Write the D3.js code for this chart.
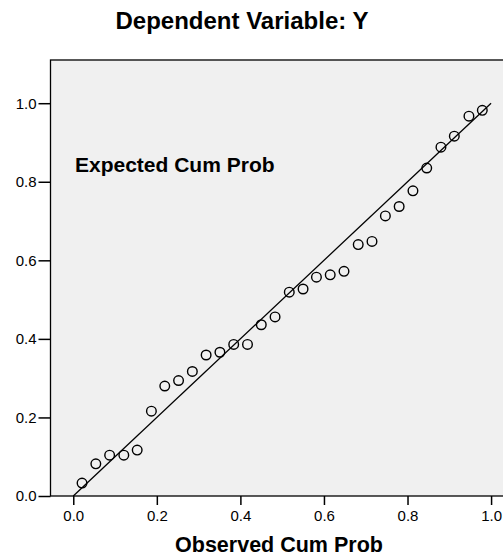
<!DOCTYPE html>
<html>
<head>
<meta charset="utf-8">
<script src="https://cdn.jsdelivr.net/npm/d3@7"></script>
<style>
	body { margin: 0; background: #fff; }
	svg text { font-family: "Liberation Sans", Arial, sans-serif; fill: #000; }
</style>
</head>
<body>
<div id="chart"></div>
<script>

// values
var observed = [0.021, 0.054, 0.087, 0.121, 0.153, 0.187, 0.219, 0.252, 0.285, 0.318,
                0.351, 0.384, 0.417, 0.450, 0.483, 0.517, 0.550, 0.582, 0.615, 0.648,
                0.682, 0.715, 0.747, 0.780, 0.813, 0.846, 0.880, 0.912, 0.947, 0.979];
var expected = [0.033, 0.082, 0.104, 0.104, 0.117, 0.216, 0.280, 0.294, 0.317, 0.359,
                0.366, 0.386, 0.386, 0.436, 0.456, 0.519, 0.527, 0.557, 0.563, 0.572,
                0.640, 0.648, 0.713, 0.737, 0.777, 0.835, 0.888, 0.916, 0.967, 0.982];
var refLine = [[0, 0], [1, 1]];
var tickValues = [0, 0.2, 0.4, 0.6, 0.8, 1.0];

var titleText = "Dependent Variable: Y";
var xTitle = "Observed Cum Prob";
var yTitle = "Expected Cum Prob";

//*******************************************************************************************
//		CHART
//*******************************************************************************************

function drawChart() {
	var width = 503, height = 556;
	var frame = { left: 50.5, top: 60, right: 508, bottom: 496 };

	var svg = d3.select("#chart").append("svg")
		.attr("width", width)
		.attr("height", height);

	var x = d3.scaleLinear().domain([-0.0545, 1.0405]).range([frame.left, frame.right]);
	var y = d3.scaleLinear().domain([0, 1.11]).range([frame.bottom, frame.top]);

	svg.append("rect")
		.attr("x", frame.left)
		.attr("y", frame.top)
		.attr("width", frame.right - frame.left)
		.attr("height", frame.bottom - frame.top)
		.attr("fill", "#f0f0f0")
		.attr("stroke", "#000")
		.attr("stroke-width", 1.3);

	var fmt = d3.format(".1f");

	var xAxis = svg.append("g")
		.attr("transform", "translate(0," + frame.bottom + ")")
		.call(d3.axisBottom(x).tickValues(tickValues).tickFormat(fmt).tickSize(9).tickPadding(5));
	var yAxis = svg.append("g")
		.attr("transform", "translate(" + frame.left + ",0)")
		.call(d3.axisLeft(y).tickValues(tickValues).tickFormat(fmt).tickSize(12).tickPadding(2));

	[xAxis, yAxis].forEach(function(g) {
		g.select(".domain").remove();
		g.selectAll(".tick line").attr("stroke", "#000").attr("stroke-width", 1.5);
		g.selectAll(".tick text")
			.attr("font-size", 15)
			.attr("font-family", "Liberation Sans, Arial, sans-serif")
			.attr("fill", "#000");
	});

	var line = d3.line()
		.x(function(d) { return x(d[0]); })
		.y(function(d) { return y(d[1]); });

	svg.append("path")
		.datum(refLine)
		.attr("d", line)
		.attr("fill", "none")
		.attr("stroke", "#000")
		.attr("stroke-width", 1.3);

	svg.append("g").selectAll("circle")
		.data(observed)
		.enter()
		.append("circle")
		.attr("cx", function(d) { return x(d); })
		.attr("cy", function(d, i) { return y(expected[i]); })
		.attr("r", 4.8)
		.attr("fill", "none")
		.attr("stroke", "#000")
		.attr("stroke-width", 1.4);

	svg.append("text")
		.attr("x", 242)
		.attr("y", 29)
		.attr("text-anchor", "middle")
		.attr("font-size", 24)
		.attr("font-weight", "bold")
		.text(titleText);

	svg.append("text")
		.attr("x", 279)
		.attr("y", 552)
		.attr("text-anchor", "middle")
		.attr("font-size", 21.5)
		.attr("font-weight", "bold")
		.text(xTitle);

	svg.append("text")
		.attr("x", 75)
		.attr("y", 172)
		.attr("font-size", 21)
		.attr("font-weight", "bold")
		.text(yTitle);
}

drawChart();
</script>
</body>
</html>
